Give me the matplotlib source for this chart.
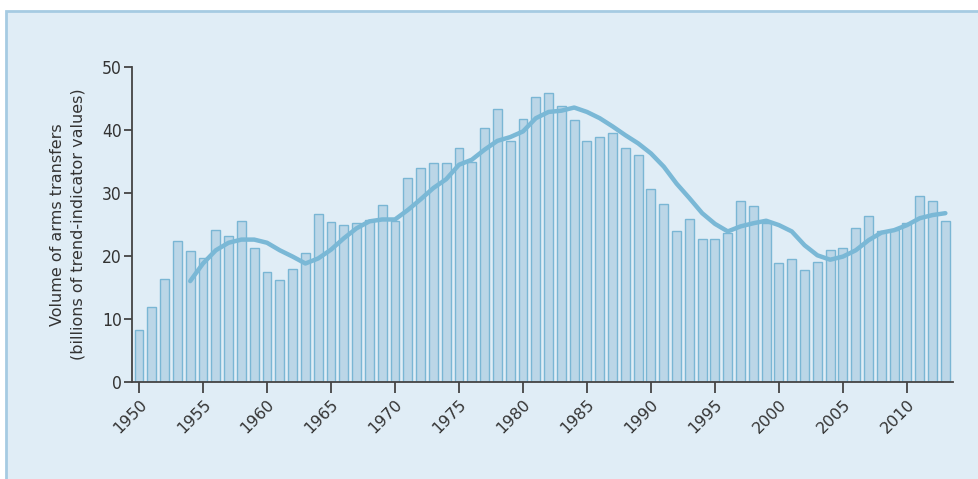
import matplotlib
matplotlib.use("Agg")
import matplotlib.pyplot as plt
from matplotlib.patches import Rectangle
from matplotlib.transforms import ScaledTranslation

years = list(range(1950, 2014))
values = [8.2, 11.9, 16.4, 22.4, 20.8, 19.7, 24.2, 23.1, 25.6, 21.3,
          17.5, 16.2, 17.9, 20.4, 26.7, 25.4, 25.0, 25.2, 25.7, 28.1,
          25.6, 32.4, 34.0, 34.8, 34.8, 37.1, 35.0, 40.3, 43.4, 38.2,
          41.8, 45.2, 45.9, 43.9, 41.6, 38.2, 38.9, 39.6, 37.1, 36.0,
          30.6, 28.3, 24.0, 25.8, 22.7, 22.7, 23.7, 28.7, 27.9, 25.3,
          18.8, 19.5, 17.7, 19.1, 21.0, 21.3, 24.5, 26.3, 24.0, 24.2,
          25.3, 29.6, 28.7, 25.6]

trend_years = list(range(1954, 2014))
trend = [16.0, 18.8, 20.9, 22.1, 22.6, 22.6, 22.1, 20.9, 19.9, 18.8,
         19.6, 21.0, 22.8, 24.4, 25.5, 25.8, 25.8, 27.3, 29.0, 30.8,
         32.2, 34.5, 35.3, 36.9, 38.3, 38.9, 39.8, 41.9, 42.9, 43.1,
         43.6, 42.9, 41.9, 40.6, 39.2, 37.9, 36.3, 34.2, 31.5, 29.2,
         26.8, 25.1, 23.9, 24.7, 25.2, 25.6, 24.9, 23.9, 21.7, 20.1,
         19.4, 19.9, 20.9, 22.5, 23.7, 24.1, 24.9, 26.0, 26.5, 26.8]

xticks = list(range(1950, 2011, 5))
yticks = [0, 10, 20, 30, 40, 50]

W, H = 979, 479
fig = plt.figure(figsize=(W / 100, H / 100), dpi=100)
fig.patch.set_facecolor("white")
fig.patches.append(Rectangle((6 / W, -0.05), 1.1, 1 - 11 / H + 0.05,
                             transform=fig.transFigure, facecolor="#e0edf6",
                             edgecolor="#a6cbe2", linewidth=2, zorder=-10))

ax = fig.add_axes([131.7 / W, 1 - 381.7 / H, (953.3 - 131.7) / W, (381.7 - 67.3) / H])
ax.set_facecolor("none")
ax.set_zorder(1)

ax.bar(years, values, width=0.70, color="#bbd6e7", edgecolor="#7ab6d4",
       linewidth=1.0, zorder=2)
ax.plot(trend_years, trend, color="#7ab8d6", linewidth=3.2,
        solid_capstyle="round", solid_joinstyle="round", zorder=3)

ax.set_xlim(1949.43, 2013.62)
ax.set_ylim(0, 50)
ax.set_xticks(xticks)
ax.set_xticklabels([str(t) for t in xticks], rotation=45, ha="right",
                   va="top", rotation_mode="anchor", fontsize=11.5,
                   color="#333333")
offset = ScaledTranslation(-5 / 100, 0, fig.dpi_scale_trans)
for lab in ax.get_xticklabels():
    lab.set_transform(lab.get_transform() + offset)
ax.set_yticks(yticks)
ax.set_yticklabels([str(t) for t in yticks], fontsize=12.5, color="#333333",
                   fontstretch="condensed")

for s in ["top", "right"]:
    ax.spines[s].set_visible(False)
for s in ["left", "bottom"]:
    ax.spines[s].set_color("#444444")
    ax.spines[s].set_linewidth(1.3)
ax.tick_params(axis="y", direction="out", length=6, width=1.3,
               color="#444444", pad=1)
ax.tick_params(axis="x", direction="out", length=8, width=1.3,
               color="#444444", pad=3)

ax.set_ylabel("Volume of arms transfers\n(billions of trend-indicator values)",
              fontsize=11.5, color="#333333", linespacing=1.45, labelpad=12)

fig.savefig("out.png", dpi=100)
